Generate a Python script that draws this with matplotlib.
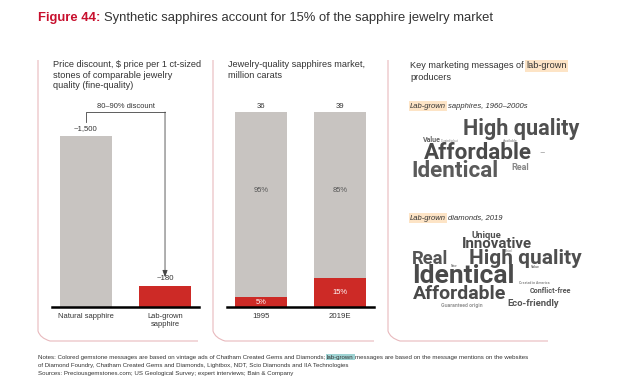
import matplotlib.pyplot as plt
from matplotlib.path import Path
from matplotlib.patches import PathPatch

plt.rcParams['font.family'] = ['Liberation Sans', 'DejaVu Sans']

# data
price_labels = ["Natural sapphire", "Lab-grown\nsapphire"]
price_values = [1500, 180]
price_text = ["~1,500", "~180"]
discount_text = "80\u201390% discount"

market_years = ["1995", "2019E"]
market_totals = [36, 39]
lab_share = [5, 15]
natural_share = [95, 85]

cloud1_words = ["High quality", "Value", "Created to last", "Available", "Affordable", "\u2013", "Identical", "Real"]
cloud2_words = ["Unique", "Innovative", "Ethical", "Real", "High quality", "New", "Value", "Identical",
                "Created in America", "Affordable", "Conflict-free", "Eco-friendly", "Guaranteed origin"]

RED = "#cd2a26"
GRAY = "#c8c4c1"
TXT = "#333333"
PINK = "#e8b9bd"
W, H = 633, 390

fig = plt.figure(figsize=(W / 100, H / 100), dpi=100)
bg = fig.add_axes([0, 0, 1, 1])
bg.set_xlim(0, W)
bg.set_ylim(H, 0)
bg.axis("off")


def px_axes(left, top, right, bottom):
    a = fig.add_axes([left / W, 1 - bottom / H, (right - left) / W, (bottom - top) / H])
    a.set_facecolor("none")
    return a


def chain(prev, s, gap=0, **kw):
    return bg.annotate(s, xy=(1, 0), xycoords=prev, xytext=(gap, 0), textcoords="offset points",
                       ha="left", va="bottom", **kw)


# title
t = bg.text(38, 18, "Figure 44:", color="#c8102e", fontsize=9.4, weight="bold", va="center")
chain(t, "Synthetic sapphires account for 15% of the sapphire jewelry market", gap=2.5,
      color="#333333", fontsize=9.4)

# panel borders
for x0, x1 in [(38, 198), (213, 374), (388, 548)]:
    verts = [(x0, 60), (x0, 331), (x0 + 2, 338), (x0 + 12, 341), (x1, 341)]
    codes = [Path.MOVETO, Path.LINETO, Path.CURVE3, Path.CURVE3, Path.LINETO]
    bg.add_patch(PathPatch(Path(verts, codes), fc="none", ec=PINK, lw=0.8))

# panel titles
PT = 6.6
bg.text(53, 60, "Price discount, $ price per 1 ct-sized\nstones of comparable jewelry\nquality (fine-quality)",
        fontsize=PT, color=TXT, va="top", linespacing=1.25)
bg.text(228, 60, "Jewelry-quality sapphires market,\nmillion carats",
        fontsize=PT, color=TXT, va="top", linespacing=1.25)
k = bg.text(410, 66, "Key marketing messages of", fontsize=PT, color=TXT, va="center")
chain(k, "lab-grown", gap=1.7, fontsize=PT, color=TXT,
      bbox=dict(boxstyle="square,pad=0.15", fc="#fde4c6", ec="none"))
bg.text(410, 78, "producers", fontsize=PT, color=TXT, va="center")

# panel 1: price bars
ax1 = px_axes(52, 107, 199, 307)
ax1.bar([0, 1], price_values, width=0.66, color=[GRAY, RED])
ax1.set_xlim(-0.43, 1.43)
ax1.set_ylim(0, 1754)
for i, (v, s) in enumerate(zip(price_values, price_text)):
    ax1.text(i, v + 35, s, ha="center", va="bottom", fontsize=5.6, color=TXT)
ax1.set_xticks([0, 1])
ax1.set_xticklabels(price_labels, fontsize=5.4, color=TXT, linespacing=1.3)
ax1.tick_params(length=0, pad=4)
ax1.set_yticks([])
for sp in ["top", "left", "right"]:
    ax1.spines[sp].set_visible(False)
ax1.spines["bottom"].set_linewidth(1.8)
# discount bracket
ax1.plot([0, 0, 1], [1625, 1710, 1710], color="#444444", lw=0.6, clip_on=False)
ax1.annotate("", xy=(1, 262), xytext=(1, 1710),
             arrowprops=dict(arrowstyle="-|>,head_length=0.4,head_width=0.15", color="#444444", lw=0.6,
                             shrinkA=0, shrinkB=0), annotation_clip=False)
ax1.text(0.5, 1730, discount_text, ha="center", va="bottom", fontsize=5.4, color=TXT, clip_on=False)

# panel 2: market share stacked bars
ax2 = px_axes(227, 107, 374, 307)
ax2.bar([0, 1], lab_share, width=0.66, color=RED)
ax2.bar([0, 1], natural_share, bottom=lab_share, width=0.66, color=GRAY)
ax2.set_xlim(-0.43, 1.43)
ax2.set_ylim(0, 102.6)
for i in range(2):
    ax2.text(i, 101.0, str(market_totals[i]), ha="center", va="bottom", fontsize=5.6, color=TXT)
    ax2.text(i, 60, f"{natural_share[i]}%", ha="center", va="center", fontsize=5.4, color="#555555")
    ax2.text(i, lab_share[i] / 2, f"{lab_share[i]}%", ha="center", va="center", fontsize=5.4, color="white")
ax2.set_xticks([0, 1])
ax2.set_xticklabels(market_years, fontsize=5.6, color=TXT)
ax2.tick_params(length=0, pad=4)
ax2.set_yticks([])
for sp in ["top", "left", "right"]:
    ax2.spines[sp].set_visible(False)
ax2.spines["bottom"].set_linewidth(1.8)

# panel 3: word clouds
s1 = bg.text(410, 106, "Lab-grown", fontsize=5.5, style="italic", color=TXT, va="center",
             bbox=dict(boxstyle="square,pad=0.15", fc="#fde4c6", ec="none"))
chain(s1, "sapphires, 1960\u20132000s", gap=1.4, fontsize=5.5, style="italic", color=TXT)
s2 = bg.text(410, 218, "Lab-grown", fontsize=5.5, style="italic", color=TXT, va="center",
             bbox=dict(boxstyle="square,pad=0.15", fc="#fde4c6", ec="none"))
chain(s2, "diamonds, 2019", gap=1.4, fontsize=5.5, style="italic", color=TXT)

# layout: (x, y, fontsize, color)
cloud1_layout = [
    (463, 129, 15.6, "#505050"), (423, 140, 5.0, "#666666"), (441, 141, 1.8, "#999999"),
    (503, 141, 2.5, "#999999"), (424, 153, 16.2, "#4a4a4a"), (539, 153, 6, "#aaaaaa"),
    (411, 171, 16.2, "#5a5a5a"), (511, 167, 6.5, "#888888"),
]
cloud2_layout = [
    (471, 235, 6.8, "#505050"), (462, 244, 10.8, "#4a4a4a"), (505, 251, 2.0, "#999999"),
    (412, 259, 13.2, "#555555"), (469, 259, 15.0, "#4f4f4f"), (451, 266, 2.3, "#888888"),
    (531, 267, 2.5, "#777777"), (412, 276, 19.0, "#4a4a4a"), (519, 283, 2.5, "#888888"),
    (413, 294, 14.0, "#4a4a4a"), (530, 291, 5.2, "#555555"), (507, 304, 6.8, "#555555"),
    (441, 305, 3.8, "#9a9a9a"),
]
for words, layout in [(cloud1_words, cloud1_layout), (cloud2_words, cloud2_layout)]:
    for w, (x, y, fs, c) in zip(words, layout):
        bg.text(x, y, w, fontsize=fs, color=c, family=["Roboto", "DejaVu Sans"], weight="bold",
                ha="left", va="center")

# notes
NF = 4.45
n = bg.text(38, 357, "Notes: Colored gemstone messages are based on vintage ads of Chatham Created Gems and Diamonds;",
            fontsize=NF, color=TXT, va="center")
n2 = chain(n, "lab-grown", gap=1.2, fontsize=NF, color=TXT,
           bbox=dict(boxstyle="square,pad=0.15", fc="#9fd4d4", ec="none"))
chain(n2, "messages are based on the message mentions on the websites", gap=1.2, fontsize=NF, color=TXT)
bg.text(38, 365, "of Diamond Foundry, Chatham Created Gems and Diamonds, Lightbox, NDT, Scio Diamonds and IIA Technologies",
        fontsize=NF, color=TXT, va="center")
bg.text(38, 374, "Sources: Preciousgemstones.com; US Geological Survey; expert interviews; Bain & Company",
        fontsize=NF, color=TXT, va="center")

fig.savefig("out.png", dpi=100, facecolor="white")
